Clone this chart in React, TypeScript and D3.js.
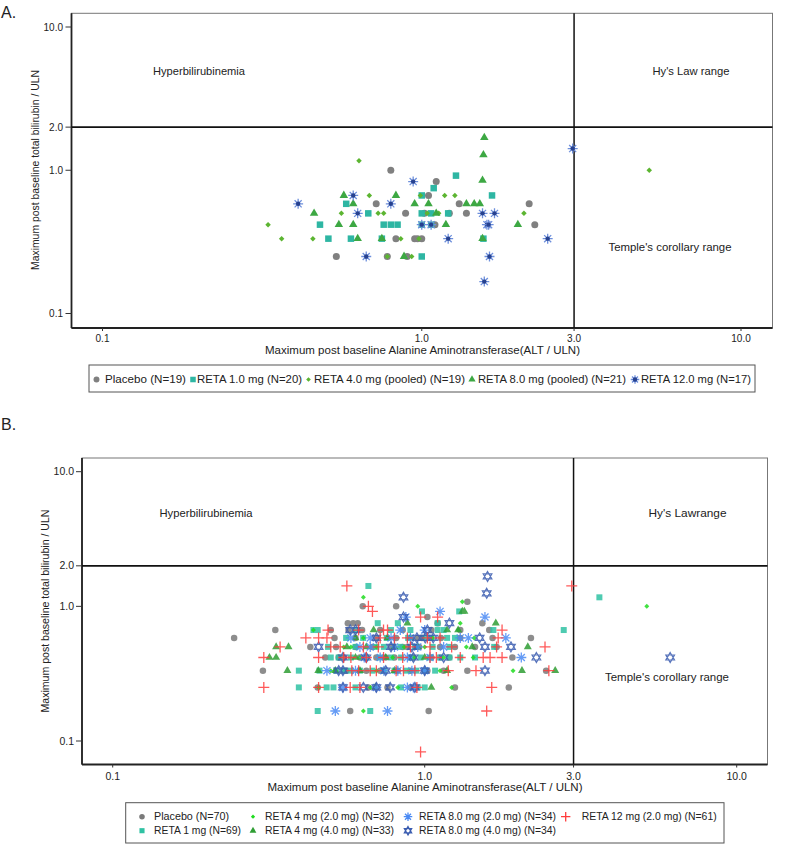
import React from 'react';
import * as d3 from 'd3';

type Pt = [number, number]; // [ALT / ULN, total bilirubin / ULN]

// ---------- Panel A data ----------
const aPlacebo: Pt[] = [
  [0.8, 1.0], [1.11, 0.833], [0.72, 0.583], [1.31, 0.583], [2.17, 0.583], [0.89, 0.5], [1.38, 0.5],
  [2.26, 0.417], [0.83, 0.333], [0.97, 0.333], [0.54, 0.25], [0.78, 0.25], [0.9, 0.25], [1.22, 0.5],
  [1.0, 0.333], [1.05, 0.667], [1.1, 0.417], [0.95, 0.333], [1.02, 0.5],
];
const aReta1: Pt[] = [
  [1.28, 0.917], [1.09, 0.75], [1.66, 0.667], [1.0, 0.667], [0.58, 0.583], [0.68, 0.5], [1.0, 0.5],
  [1.07, 0.5], [1.21, 0.5], [0.48, 0.417], [0.76, 0.417], [0.8, 0.417], [0.84, 0.417], [1.0, 0.417],
  [1.07, 0.417], [0.51, 0.333], [0.6, 0.333], [0.75, 0.333], [1.56, 0.333], [1.0, 0.25],
];
const aReta4: Pt[] = [
  [0.636, 1.167], [0.685, 0.667], [0.56, 0.5], [0.73, 0.5], [0.76, 0.5], [0.33, 0.417], [0.364, 0.333],
  [0.456, 0.333], [1.18, 0.667], [1.27, 0.667], [2.09, 0.5], [5.16, 1.0], [0.78, 0.25], [0.99, 0.667],
  [1.04, 0.5], [0.86, 0.333], [1.13, 0.5], [0.98, 0.333], [0.93, 0.25],
];
const aReta8: Pt[] = [
  [1.57, 1.69], [1.56, 1.28], [1.55, 0.85], [0.57, 0.667], [0.83, 0.667], [0.61, 0.583], [0.95, 0.583],
  [1.05, 0.583], [1.38, 0.583], [1.46, 0.583], [1.52, 0.583], [0.46, 0.5], [1.11, 0.5], [0.55, 0.417],
  [0.61, 0.417], [1.19, 0.417], [2.0, 0.417], [0.63, 0.333], [0.75, 0.333], [1.55, 0.333], [0.88, 0.25],
];
const aReta12: Pt[] = [
  [2.97, 1.417], [0.94, 0.833], [0.61, 0.667], [0.41, 0.583], [0.8, 0.583], [0.63, 0.5], [1.55, 0.5],
  [1.69, 0.5], [1.0, 0.417], [1.07, 0.417], [1.6, 0.417], [1.21, 0.333], [2.48, 0.333], [0.67, 0.25],
  [1.63, 0.25], [1.57, 0.167], [1.62, 0.417],
];

// ---------- Panel B data ----------
const bPlacebo: Pt[] = [
  [0.245, 0.583], [0.332, 0.667], [0.303, 0.333], [0.633, 1.0], [0.81, 1.0], [1.37, 1.083], [1.02, 0.833],
  [0.577, 0.167], [1.03, 0.167],
  [0.454, 0.25], [0.76, 0.25], [1.25, 0.25], [1.86, 0.25], [0.66, 0.25],
  [1.37, 0.333], [2.45, 0.333], [0.56, 0.333], [0.72, 0.333], [0.9, 0.333], [1.02, 0.333], [0.65, 0.333],
  [0.48, 0.417], [0.55, 0.417], [0.62, 0.417], [0.7, 0.417], [0.8, 0.417], [0.92, 0.417], [1.05, 0.417], [1.2, 0.417], [1.91, 0.417],
  [0.52, 0.5], [0.6, 0.5], [0.68, 0.5], [0.78, 0.5], [0.88, 0.5], [0.96, 0.5], [1.12, 0.5], [1.25, 0.5], [1.45, 0.5],
  [0.514, 0.583], [0.81, 0.583], [1.127, 0.583], [2.19, 0.583], [0.6, 0.583], [0.95, 0.583], [1.3, 0.583], [1.65, 0.583],
  [0.5, 0.667], [0.57, 0.667], [0.63, 0.667], [0.85, 0.667], [1.05, 0.667], [1.3, 0.667], [1.61, 0.667], [0.72, 0.667],
  [0.567, 0.75], [0.61, 0.75], [1.53, 0.75], [0.59, 0.75], [1.1, 0.75],
  [0.75, 0.417], [0.85, 0.5], [1.15, 0.333], [0.82, 0.333], [0.98, 0.583], [0.7, 0.583], [1.7, 0.5], [0.43, 0.5], [0.9, 0.25], [0.53, 0.417],
];
const bReta1: Pt[] = [
  [0.66, 1.417], [3.63, 1.167], [2.79, 0.667], [0.98, 0.917], [1.29, 0.917], [0.454, 0.167], [0.669, 0.167], [1.0, 0.25],
  [0.707, 0.75], [1.1, 0.75], [1.66, 0.667], [0.395, 0.333], [0.395, 0.25], [0.485, 0.25], [0.44, 0.667], [0.454, 0.667], [1.1, 0.667],
  [0.56, 0.583], [0.635, 0.583], [0.756, 0.583], [0.885, 0.583], [1.0, 0.583], [1.18, 0.583], [1.25, 0.583],
  [0.49, 0.5], [0.6, 0.5], [0.7, 0.5], [0.74, 0.5], [0.835, 0.5], [0.93, 0.5], [1.06, 0.5], [1.2, 0.5], [1.67, 0.5],
  [0.5, 0.417], [0.53, 0.417], [0.58, 0.417], [0.65, 0.417], [0.72, 0.417], [0.78, 0.417], [0.84, 0.417], [0.9, 0.417],
  [0.97, 0.417], [1.04, 0.417], [1.12, 0.417], [1.2, 0.417], [1.3, 0.417], [1.45, 0.417],
  [0.46, 0.333], [0.52, 0.333], [0.58, 0.333], [0.62, 0.333], [0.68, 0.333], [0.74, 0.333], [0.8, 0.333], [0.87, 0.333],
  [0.94, 0.333], [1.0, 0.333], [1.08, 0.333], [0.55, 0.333],
  [0.51, 0.25], [0.6, 0.25], [0.84, 0.25], [0.95, 0.25],
  [0.6, 0.667], [0.78, 0.667], [0.9, 0.667], [1.15, 0.667], [0.82, 0.75], [1.05, 0.583],
];
const bReta4Low: Pt[] = [
  [5.15, 1.0], [0.636, 1.167], [0.95, 1.0], [1.32, 1.083], [0.636, 0.167], [0.44, 0.667], [1.92, 0.333], [1.22, 0.25],
  [1.3, 0.75], [1.43, 0.417], [0.79, 0.417], [0.58, 0.5], [0.67, 0.25], [1.36, 0.5], [1.44, 0.583], [0.636, 0.583],
  [0.457, 0.25], [1.28, 0.667], [0.55, 0.5], [0.7, 0.5], [0.86, 0.5], [1.0, 0.5], [0.62, 0.417], [0.93, 0.417],
  [1.15, 0.417], [0.5, 0.333], [0.7, 0.333], [0.9, 0.333], [0.76, 0.583], [1.06, 0.583], [0.82, 0.25], [1.12, 0.333],
];
const bReta4High: Pt[] = [
  [0.334, 0.5], [0.366, 0.5], [0.318, 0.417], [0.334, 0.417], [0.363, 0.333], [0.456, 0.333], [0.517, 0.333],
  [0.686, 0.667], [1.18, 0.667], [1.28, 0.667], [1.32, 0.917], [1.69, 0.75], [2.14, 0.5], [1.42, 0.5], [2.05, 0.333],
  [2.62, 0.333], [1.18, 0.333], [0.694, 0.25], [0.563, 0.5], [1.34, 0.917],
  [0.6, 0.583], [0.76, 0.583], [0.9, 0.583], [0.65, 0.5], [0.8, 0.5], [0.95, 0.5], [0.6, 0.417], [0.75, 0.417],
  [1.0, 0.417], [0.62, 0.333], [0.8, 0.333], [1.05, 0.25], [0.88, 0.75],
];
const bReta8Low: Pt[] = [
  [0.517, 0.167], [0.76, 0.167], [1.12, 0.917], [1.56, 0.833], [2.04, 0.417], [1.82, 0.583], [0.835, 0.667],
  [0.486, 0.333], [0.547, 0.25], [0.88, 0.25], [0.92, 0.25], [0.87, 0.833], [0.91, 0.333], [1.3, 0.583],
  [1.38, 0.583], [0.62, 0.5], [0.64, 0.417], [0.669, 0.5], [0.669, 0.583], [0.72, 0.417], [0.8, 0.5],
  [0.88, 0.417], [0.95, 0.5], [1.04, 0.417], [0.6, 0.333], [0.74, 0.333], [0.82, 0.333], [1.0, 0.333],
  [0.78, 0.583], [0.9, 0.583], [1.0, 0.667], [0.58, 0.583], [1.15, 0.5], [0.7, 0.25],
];
const bReta8High: Pt[] = [
  [1.59, 1.667], [1.58, 1.25], [0.855, 1.167], [0.855, 0.833], [1.2, 0.75], [1.02, 0.667], [0.577, 0.667],
  [0.6, 0.667], [0.457, 0.5], [1.89, 0.5], [2.28, 0.417], [1.56, 0.333], [6.12, 0.417], [0.53, 0.333],
  [0.547, 0.25], [0.636, 0.25], [0.7, 0.25], [0.775, 0.25], [0.93, 0.25], [1.5, 0.583], [1.56, 0.5],
  [0.944, 0.583], [1.004, 0.583], [1.065, 0.583], [0.91, 0.5], [0.78, 0.5], [0.75, 0.333], [1.0, 0.333],
  [0.92, 0.417], [0.547, 0.417], [0.547, 0.333], [0.65, 0.417], [0.7, 0.583], [1.15, 0.417],
];
const bReta12: Pt[] = [
  [0.563, 1.417], [2.96, 1.417], [0.66, 1.0], [0.68, 0.917], [1.1, 0.833], [0.97, 0.833], [0.97, 0.083],
  [1.58, 0.167], [0.305, 0.417], [0.305, 0.25], [0.344, 0.5], [0.416, 0.583], [0.457, 0.583], [0.486, 0.583],
  [0.49, 0.667], [0.614, 0.667], [0.738, 0.667], [1.77, 0.667], [0.536, 0.5], [0.636, 0.5], [0.71, 0.5],
  [1.04, 0.5], [1.22, 0.5], [1.7, 0.5], [2.43, 0.5], [0.457, 0.417], [0.738, 0.417], [0.85, 0.417],
  [1.04, 0.417], [1.09, 0.417], [1.54, 0.417], [1.62, 0.417], [1.77, 0.417], [0.584, 0.333], [0.614, 0.333],
  [0.669, 0.333], [0.7, 0.333], [0.81, 0.333], [0.855, 0.333], [1.19, 0.333], [1.46, 0.333], [2.5, 0.333],
  [0.577, 0.25], [0.457, 0.25], [0.944, 0.25], [1.64, 0.25], [0.72, 0.583], [1.02, 0.583], [1.72, 0.583],
  [0.55, 0.417], [0.9, 0.5], [0.8, 0.583], [0.5, 0.5], [0.58, 0.417], [0.65, 0.417], [0.93, 0.333],
  [1.12, 0.583], [0.76, 0.667], [0.88, 0.583], [1.3, 0.417], [0.62, 0.25],
];

const legendA = ['Placebo (N=19)', 'RETA 1.0 mg (N=20)', 'RETA 4.0 mg (pooled) (N=19)', 'RETA 8.0 mg (pooled) (N=21)', 'RETA 12.0 mg (N=17)'];
const legendB = ['Placebo  (N=70)', 'RETA 1 mg (N=69)', 'RETA 4 mg (2.0 mg) (N=32)', 'RETA 4 mg (4.0 mg) (N=33)', 'RETA 8.0 mg (2.0 mg) (N=34)', 'RETA 8.0 mg (4.0 mg) (N=34)', 'RETA 12 mg (2.0 mg) (N=61)'];
const xTicks = [0.1, 1.0, 3.0, 10.0];
const yTicks = [0.1, 1.0, 2.0, 10.0];
const regionLabelsA = ['Hyperbilirubinemia', "Hy's Law range", "Temple's corollary range"];
const regionLabelsB = ['Hyperbilirubinemia', "Hy's Lawrange", "Temple's corollary range"];
const xTitle = 'Maximum post baseline Alanine Aminotransferase(ALT / ULN)';
const yTitle = 'Maximum post baseline total bilirubin / ULN';

const FONT = '"Liberation Sans", Arial, sans-serif';

type Shape = 'circle' | 'square' | 'diamond' | 'triangle' | 'starA' | 'asterisk' | 'hexagram' | 'plus';

const rays = (r: number) =>
  [0, 45, 90, 135].map(a => {
    const t = (a * Math.PI) / 180;
    return `M${-r * Math.cos(t)},${-r * Math.sin(t)}L${r * Math.cos(t)},${r * Math.sin(t)}`;
  }).join('');

const triPath = (r: number, a0: number) =>
  'M' + [0, 1, 2].map(i => {
    const t = ((a0 + i * 120) * Math.PI) / 180;
    return `${r * Math.cos(t)},${r * Math.sin(t)}`;
  }).join('L') + 'Z';

function Marker({ shape, color, s }: { shape: Shape; color: string; s: number }) {
  const r = s / 2;
  switch (shape) {
    case 'circle':
      return <circle r={r} fill={color} />;
    case 'square':
      return <rect x={-r} y={-r} width={s} height={s} fill={color} />;
    case 'diamond':
      return <path d={`M0,${-r}L${r},0L0,${r}L${-r},0Z`} fill={color} />;
    case 'triangle':
      return <path d={d3.symbol(d3.symbolTriangle, s * s * 0.433)() as string} fill={color} />;
    case 'starA':
      return (
        <g>
          <path d={rays(r)} stroke="#6d8fdc" strokeWidth={1.3} />
          <circle r={2.2} fill={color} />
        </g>
      );
    case 'asterisk':
      return <path d={rays(r)} stroke={color} strokeWidth={1.3} />;
    case 'hexagram':
      return <path d={triPath(r, -90) + triPath(r, 90)} stroke={color} strokeWidth={1.2} fill="none" />;
    case 'plus':
      return <path d={`M${-r},0L${r},0M0,${-r}L0,${r}`} stroke={color} strokeWidth={1.3} />;
  }
  return null;
}

type Series = { name: string; data: Pt[]; shape: Shape; color: string; size: number };
type LegendPos = { mx: number; tx: number; w: number; y: number };

type PanelCfg = {
  label: string;
  labelY: number;
  frame: { l: number; r: number; t: number; b: number };
  xr: [number, number];
  yr: [number, number];
  tickFont: number;
  yTickX: number;
  xTickY: number;
  yTitle: { x: number; y: number; w: number };
  xTitle: { x: number; y: number; w: number };
  regions: { text: string; x: number; y: number; w: number }[];
  legendBox: { x: number; y: number; w: number; h: number };
  legendPos: LegendPos[];
  legendFont: number;
  opacity: number;
};

function Panel({ cfg, series }: { cfg: PanelCfg; series: Series[] }) {
  const x = d3.scaleLog().domain([0.1, 10]).range(cfg.xr);
  const y = d3.scaleLog().domain([0.1, 10]).range(cfg.yr);
  const f = cfg.frame;
  const fmt = d3.format('.1f');
  return (
    <g fontFamily={FONT} fill="#222">
      <text x={1} y={cfg.labelY} fontSize={16}>{cfg.label}</text>

      {/* frame */}
      <rect x={f.l} y={f.t} width={f.r - f.l} height={f.b - f.t} fill="none" stroke="#777" strokeWidth={1} />
      <line x1={f.l} x2={f.l} y1={f.t} y2={f.b} stroke="#222" strokeWidth={1.8} />
      <line x1={f.l} x2={f.r} y1={f.b} y2={f.b} stroke="#222" strokeWidth={1.8} />

      {/* reference lines */}
      <line x1={f.l} x2={f.r} y1={y(2)} y2={y(2)} stroke="#111" strokeWidth={1.8} />
      <line x1={x(3)} x2={x(3)} y1={f.t} y2={f.b} stroke="#111" strokeWidth={1.5} />

      {/* y axis */}
      {yTicks.map(t => (
        <g key={'y' + t}>
          <line x1={f.l - 6} x2={f.l} y1={y(t)} y2={y(t)} stroke="#333" />
          <text x={cfg.yTickX} y={y(t)} dy="0.35em" textAnchor="end" fontSize={cfg.tickFont}>{fmt(t)}</text>
        </g>
      ))}
      {/* x axis */}
      {xTicks.map(t => (
        <g key={'x' + t}>
          <line x1={x(t)} x2={x(t)} y1={f.b} y2={f.b + 3} stroke="#333" />
          <text x={x(t)} y={cfg.xTickY} dy="0.35em" textAnchor="middle" fontSize={cfg.tickFont}>{fmt(t)}</text>
        </g>
      ))}

      <text
        transform={`translate(${cfg.yTitle.x},${cfg.yTitle.y}) rotate(-90)`}
        textAnchor="middle" dy="0.35em" fontSize={11}
        textLength={cfg.yTitle.w} lengthAdjust="spacingAndGlyphs"
      >{yTitle}</text>
      <text
        x={cfg.xTitle.x - cfg.xTitle.w / 2} y={cfg.xTitle.y} dy="0.35em" fontSize={11}
        textLength={cfg.xTitle.w} lengthAdjust="spacingAndGlyphs"
      >{xTitle}</text>

      {cfg.regions.map(r => (
        <text key={r.text} x={r.x - r.w / 2} y={r.y} dy="0.35em" fontSize={11}
          textLength={r.w} lengthAdjust="spacingAndGlyphs">{r.text}</text>
      ))}

      {/* points */}
      {series.map(s => (
        <g key={s.name} opacity={cfg.opacity}>
          {s.data.map((d, i) => (
            <g key={i} transform={`translate(${x(d[0])},${y(d[1])})`}>
              <Marker shape={s.shape} color={s.color} s={s.size} />
            </g>
          ))}
        </g>
      ))}

      {/* legend */}
      <rect x={cfg.legendBox.x} y={cfg.legendBox.y} width={cfg.legendBox.w} height={cfg.legendBox.h}
        fill="none" stroke="#555" strokeWidth={1} />
      {series.map((s, i) => {
        const p = cfg.legendPos[i];
        return (
          <g key={'lg' + s.name}>
            <g transform={`translate(${p.mx},${p.y})`}>
              <Marker shape={s.shape} color={s.color} s={s.size * 0.85} />
            </g>
            <text x={p.tx} y={p.y} dy="0.35em" fontSize={cfg.legendFont}
              textLength={p.w} lengthAdjust="spacingAndGlyphs">{s.name}</text>
          </g>
        );
      })}
    </g>
  );
}

const seriesA: Series[] = [
  { name: legendA[0], data: aPlacebo, shape: 'circle', color: '#808080', size: 7 },
  { name: legendA[1], data: aReta1, shape: 'square', color: '#2eb6a3', size: 6.5 },
  { name: legendA[2], data: aReta4, shape: 'diamond', color: '#5cb531', size: 5.5 },
  { name: legendA[3], data: aReta8, shape: 'triangle', color: '#3da843', size: 8.5 },
  { name: legendA[4], data: aReta12, shape: 'starA', color: '#26418f', size: 10 },
];

const seriesB: Series[] = [
  { name: legendB[0], data: bPlacebo, shape: 'circle', color: '#7a7a7a', size: 6.5 },
  { name: legendB[1], data: bReta1, shape: 'square', color: '#2fc2a3', size: 6 },
  { name: legendB[2], data: bReta4Low, shape: 'diamond', color: '#1fdc1f', size: 5 },
  { name: legendB[3], data: bReta4High, shape: 'triangle', color: '#2f9e34', size: 8 },
  { name: legendB[4], data: bReta8Low, shape: 'asterisk', color: '#4a8af4', size: 10 },
  { name: legendB[5], data: bReta8High, shape: 'hexagram', color: '#3a5cb0', size: 10 },
  { name: legendB[6], data: bReta12, shape: 'plus', color: '#ff3c3c', size: 11 },
];

const cfgA: PanelCfg = {
  label: 'A.',
  labelY: 18,
  frame: { l: 71.5, r: 772.5, t: 13.3, b: 328 },
  xr: [102.5, 741],
  yr: [313.5, 27],
  tickFont: 10,
  yTickX: 63,
  xTickY: 338,
  yTitle: { x: 35, y: 170, w: 200 },
  xTitle: { x: 422.5, y: 350, w: 315 },
  regions: [
    { text: regionLabelsA[0], x: 199, y: 71, w: 92 },
    { text: regionLabelsA[1], x: 691, y: 71, w: 77 },
    { text: regionLabelsA[2], x: 670, y: 247, w: 123 },
  ],
  legendBox: { x: 89, y: 365, w: 666, h: 27 },
  legendPos: [
    { mx: 96.5, tx: 105, w: 81, y: 379.5 },
    { mx: 193, tx: 197, w: 105, y: 379.5 },
    { mx: 308.5, tx: 314, w: 151, y: 379.5 },
    { mx: 472, tx: 478, w: 148, y: 379.5 },
    { mx: 635, tx: 641, w: 110, y: 379.5 },
  ],
  legendFont: 11,
  opacity: 1,
};

const cfgB: PanelCfg = {
  label: 'B.',
  labelY: 430,
  frame: { l: 82, r: 767.5, t: 458, b: 764.5 },
  xr: [112.7, 736.7],
  yr: [741, 471.7],
  tickFont: 10.5,
  yTickX: 74,
  xTickY: 776,
  yTitle: { x: 45, y: 611, w: 203 },
  xTitle: { x: 425, y: 787, w: 315 },
  regions: [
    { text: regionLabelsB[0], x: 206, y: 513, w: 93 },
    { text: regionLabelsB[1], x: 687.5, y: 513, w: 78 },
    { text: regionLabelsB[2], x: 667, y: 677.5, w: 124 },
  ],
  legendBox: { x: 125.7, y: 802.7, w: 598.3, h: 40.3 },
  legendPos: [
    { mx: 142, tx: 154, w: 75, y: 816.7 },
    { mx: 142, tx: 154, w: 87, y: 830.7 },
    { mx: 253, tx: 265, w: 129, y: 816.7 },
    { mx: 253, tx: 265, w: 129, y: 830.7 },
    { mx: 408, tx: 419, w: 137, y: 816.7 },
    { mx: 408, tx: 419, w: 137, y: 830.7 },
    { mx: 565.7, tx: 581.7, w: 135, y: 816.7 },
  ],
  legendFont: 10,
  opacity: 0.85,
};

export default function App() {
  return (
    <svg width={785} height={846} style={{ position: 'absolute', left: 0, top: 0, background: '#fff' }}>
      <Panel cfg={cfgA} series={seriesA} />
      <Panel cfg={cfgB} series={seriesB} />
    </svg>
  );
}
